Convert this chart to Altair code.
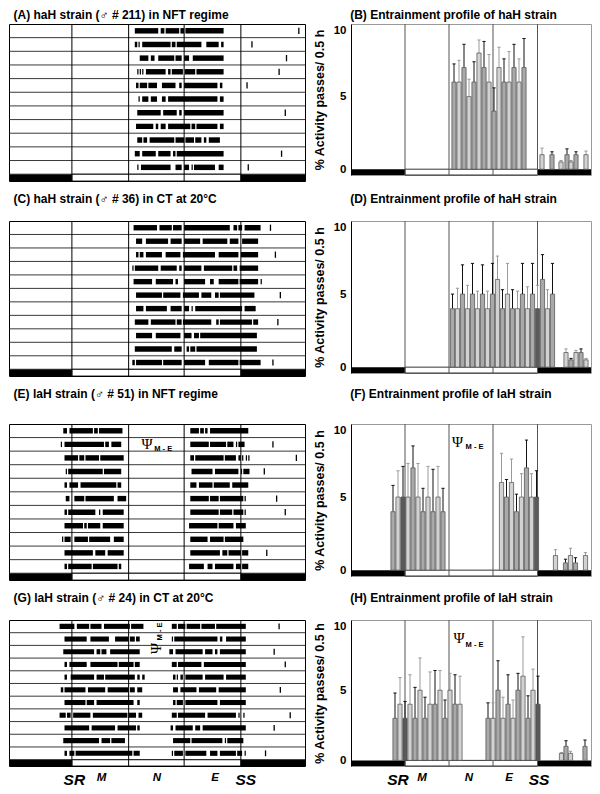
import altair as alt
import pandas as pd

FONT = "Liberation Sans"
DAY = 24.0

# phase boundaries (hours): SR, M|N, N|E, SS
BOUNDS_ACTO = [5.1, 9.7, 14.2, 18.8]
BOUNDS_PROF = [5.4, 9.8, 14.2, 18.65]

# ---------------- actogram activity bouts (start, end) in hours, one list per day ----------
A_ROWS = [
    [(10.2, 12.1), (12.3, 12.6), (12.7, 13.8), (13.9, 14.2), (14.3, 17.4)],
    [(10.2, 10.4), (10.5, 10.6), (10.8, 13.1), (13.2, 13.5), (13.6, 15.6), (16.0, 17.0), (17.2, 17.4)],
    [(10.6, 11.3), (11.5, 11.8), (12.1, 13.4), (13.5, 14.0), (14.2, 14.6), (14.9, 17.4)],
    [(10.4, 10.5), (10.6, 10.7), (10.8, 10.9), (11.1, 12.7), (12.9, 13.1), (13.2, 14.1), (14.25, 15.1), (15.2, 17.4)],
    [(10.3, 10.5), (10.6, 11.2), (11.3, 12.0), (12.4, 13.5), (13.8, 14.0), (14.2, 16.9), (17.1, 17.3)],
    [(10.5, 10.6), (10.8, 11.3), (11.5, 12.0), (12.4, 12.7), (12.9, 16.9), (17.1, 17.4)],
    [(10.4, 12.3), (12.5, 13.6), (13.8, 14.0), (14.2, 17.4)],
    [(10.3, 11.7), (11.9, 12.1), (12.3, 12.7), (12.9, 14.7), (14.8, 15.1), (15.2, 16.9), (17.1, 17.4)],
    [(10.4, 10.8), (10.9, 11.2), (11.4, 13.4), (13.5, 14.2), (14.3, 15.0), (15.1, 15.6), (15.8, 16.0), (16.2, 17.1)],
    [(10.2, 10.6), (10.8, 11.9), (12.1, 13.1), (13.3, 13.5), (13.6, 17.4)],
    [(10.4, 10.5), (10.7, 13.1), (13.5, 14.0), (14.2, 14.6), (14.8, 14.9), (15.0, 16.7), (17.0, 17.4)],
]
A_TICKS = [23.5, 19.7, 22.5, 21.9, 19.3, None, 22.4, None, None, 22.1, 19.4]

C_ROWS = [
    [(10.1, 12.0), (12.2, 13.2), (13.3, 14.0), (14.2, 17.9), (18.2, 18.5), (18.6, 18.9), (19.1, 20.4)],
    [(10.3, 10.8), (11.1, 12.9), (13.1, 14.0), (14.2, 15.5), (15.7, 17.7), (17.9, 18.6), (18.9, 20.2)],
    [(10.3, 10.5), (10.6, 10.9), (11.1, 12.4), (12.7, 13.9), (14.1, 16.7), (17.0, 18.6), (18.8, 20.2)],
    [(10.0, 10.1), (10.2, 12.1), (12.3, 13.6), (13.8, 14.0), (14.2, 15.6), (15.8, 18.1), (18.2, 18.5), (18.7, 20.2)],
    [(10.1, 11.6), (11.9, 13.3), (13.5, 13.7), (14.2, 15.9), (16.3, 16.6), (17.0, 18.6), (18.7, 20.2), (20.4, 20.5)],
    [(10.3, 12.4), (12.5, 13.9), (14.1, 15.4), (15.6, 16.4), (16.7, 17.0), (17.1, 19.9)],
    [(10.3, 10.9), (11.1, 12.8), (13.1, 14.0), (14.2, 14.6), (14.8, 14.9), (15.1, 18.9), (19.1, 20.0)],
    [(10.2, 11.3), (11.5, 13.5), (13.6, 14.0), (14.1, 16.4), (16.8, 17.0), (17.1, 19.7), (19.8, 20.2)],
    [(10.3, 11.6), (11.9, 13.9), (14.2, 14.8), (15.0, 15.4), (15.5, 20.1)],
    [(10.2, 13.2), (13.4, 14.0), (14.4, 14.6), (14.7, 15.1), (15.2, 20.1)],
    [(10.0, 10.2), (10.3, 12.4), (12.5, 14.0), (14.2, 15.9), (16.2, 18.6), (18.7, 20.4)],
]
C_TICKS = [21.2, None, 21.6, None, None, 22.0, None, 21.8, None, None, 21.4]

E_ROWS = [
    [(4.4, 4.7), (4.9, 6.8), (6.9, 7.2), (7.3, 9.2), (14.7, 15.4), (15.5, 15.8), (15.9, 16.1), (16.3, 19.4)],
    [(4.2, 4.3), (4.5, 7.7), (7.8, 8.1), (8.3, 9.1), (14.7, 16.2), (16.3, 17.6), (17.7, 18.2), (18.4, 18.5), (18.6, 19.1)],
    [(4.5, 5.6), (5.7, 6.1), (6.2, 7.3), (7.4, 9.3), (14.7, 15.0), (15.1, 17.4), (17.5, 18.4), (18.6, 18.8), (18.9, 19.0), (19.2, 19.3), (19.4, 19.5)],
    [(4.6, 4.7), (4.8, 7.6), (7.7, 9.1), (14.8, 16.5), (16.7, 18.6), (18.8, 18.9), (19.0, 19.5)],
    [(4.5, 4.7), (4.9, 5.6), (5.8, 8.7), (8.8, 9.1), (14.7, 15.2), (15.4, 16.5), (16.6, 17.9), (18.1, 19.4)],
    [(4.6, 4.9), (5.3, 6.1), (6.2, 8.5), (8.8, 9.5), (14.7, 16.2), (16.3, 17.0), (17.1, 19.0), (19.1, 19.2)],
    [(4.5, 4.7), (4.8, 7.0), (7.3, 7.4), (7.6, 9.3), (14.7, 17.0), (17.1, 18.1), (18.2, 19.0), (19.1, 19.2)],
    [(4.5, 6.0), (6.1, 6.3), (6.4, 7.4), (7.6, 9.3), (14.6, 16.9), (17.0, 18.2), (18.4, 19.2)],
    [(4.3, 4.4), (4.5, 5.0), (5.3, 6.4), (6.5, 8.2), (8.5, 9.3), (14.7, 16.1), (16.3, 17.4), (17.5, 19.0)],
    [(4.5, 6.8), (7.0, 7.8), (8.0, 9.3), (14.7, 17.1), (17.3, 17.7), (17.8, 18.8), (18.9, 19.4)],
    [(4.5, 4.7), (4.8, 6.7), (6.8, 8.8), (8.9, 9.1), (14.6, 15.8), (16.1, 16.5), (16.7, 18.2), (18.4, 18.8), (18.9, 19.4)],
]
E_TICKS = [None, 21.4, 23.3, 20.7, None, 21.7, 22.4, None, None, 20.9, None]

G_ROWS = [
    [(4.1, 5.3), (5.5, 6.5), (6.6, 7.5), (7.7, 9.8), (9.9, 10.9), (13.2, 13.6), (13.7, 14.3), (14.4, 15.5), (15.6, 16.7), (16.8, 19.2)],
    [(4.5, 6.3), (6.6, 8.1), (8.6, 9.7), (9.8, 10.2), (10.3, 10.6), (13.2, 13.3), (13.4, 16.9), (17.1, 17.3), (17.6, 19.2)],
    [(4.4, 6.9), (7.1, 7.4), (7.5, 7.9), (8.2, 10.6), (13.0, 13.3), (13.5, 15.7), (15.9, 16.5), (16.7, 16.9), (17.1, 19.2)],
    [(4.5, 4.7), (4.9, 6.3), (6.6, 8.8), (8.9, 10.1), (10.2, 10.6), (13.2, 13.6), (13.7, 15.6), (15.8, 19.2)],
    [(4.5, 4.7), (5.0, 6.9), (7.1, 7.7), (7.8, 10.2), (10.4, 10.6), (10.8, 11.0), (13.3, 13.5), (13.6, 13.7), (13.9, 14.1), (14.3, 15.7), (15.9, 17.4), (17.6, 19.2)],
    [(4.2, 4.4), (4.5, 6.2), (6.4, 7.8), (8.0, 9.7), (9.8, 10.2), (10.4, 10.8), (13.3, 13.7), (13.9, 15.2), (15.4, 16.8), (17.0, 19.2)],
    [(4.5, 6.2), (6.3, 6.9), (7.1, 10.1), (10.4, 10.6), (13.3, 13.5), (13.6, 14.1), (14.3, 16.9), (17.1, 19.2)],
    [(4.1, 4.6), (4.7, 5.0), (5.2, 6.6), (6.8, 9.6), (9.7, 10.3), (10.5, 10.8), (13.2, 13.6), (13.7, 15.9), (16.1, 18.4), (18.6, 18.7), (19.0, 19.1)],
    [(4.5, 6.5), (6.7, 8.6), (8.8, 10.3), (10.4, 10.6), (13.1, 13.3), (13.5, 14.9), (15.1, 15.5), (15.7, 19.2)],
    [(4.4, 7.3), (7.5, 8.2), (8.3, 9.4), (13.3, 14.7), (14.8, 17.3), (17.5, 17.6), (17.7, 19.0)],
    [(4.5, 4.7), (4.9, 5.3), (5.4, 10.0), (10.1, 10.6), (13.2, 13.3), (13.4, 14.1), (14.3, 16.0), (16.3, 16.9), (17.1, 18.4), (18.5, 18.9), (19.1, 19.2)],
]
G_TICKS = [21.9, None, 21.5, 22.4, None, 22.0, None, 22.8, 21.5, None, 20.8]

# ---------------- entrainment profiles: half-hour bin centre (h), mean, mean+SEM ------------
B_T = [10.3, 10.8, 11.3, 11.8, 12.3, 12.8, 13.3, 13.8, 14.3, 14.8, 15.3, 15.8, 16.3, 16.8, 17.3,
       19.1, 20.1, 21.0, 21.6, 22.0, 22.5, 23.5]
B_V = [6, 6, 7, 5, 6, 8, 7, 6, 4, 7, 6, 6, 7, 6, 7, 1, 1, 0.5, 1, 0.5, 1, 1]
B_E = [7.25, 7.5, 8.6, 6.2, 7.4, 8.9, 8.8, 7.9, 5.6, 8.4, 7.6, 8.1, 8.6, 7.6, 9.0,
       1.45, 1.2, 0.6, 1.4, 0.6, 1.2, 1.25]

D_T = [10.15, 10.65, 11.15, 11.65, 12.15, 12.65, 13.15, 13.65, 14.15, 14.65, 15.15, 15.65, 16.15,
       16.65, 17.15, 17.65, 18.15, 18.65, 19.15, 19.65, 20.15, 21.5, 22.0, 22.5, 23.0, 23.5]
D_V = [4, 4, 5, 4, 5, 4, 5, 4, 5, 6, 4, 5, 4, 4, 5, 4, 5, 4, 6, 4, 5, 1, 0.5, 1, 1, 0.5]
D_E = [5.0, 5.4, 7.0, 5.6, 7.1, 5.2, 7.0, 5.2, 7.1, 7.6, 5.3, 7.1, 5.3, 5.2, 7.1, 5.5, 7.1, 5.6,
       7.7, 5.3, 7.1, 1.25, 0.6, 1.15, 1.25, 0.6]

F_T = [4.2, 4.7, 5.2, 5.7, 6.2, 6.7, 7.2, 7.7, 8.2, 8.7, 9.2,
       15.05, 15.55, 16.05, 16.55, 17.05, 17.55, 18.05, 18.55,
       20.45, 21.45, 21.95, 22.45, 23.45]
F_V = [4, 5, 5, 5, 7, 5, 4, 5, 4, 5, 4, 6, 5, 6, 4, 5, 7, 5, 5, 1, 0.5, 1, 0.5, 1]
F_E = [5.8, 6.8, 7.1, 7.3, 8.5, 7.3, 5.6, 7.1, 6.9, 7.1, 5.6,
       8.0, 6.2, 7.6, 5.2, 6.6, 8.9, 6.6, 6.8, 1.4, 0.75, 1.5, 0.85, 1.2]

H_T = [4.4, 4.9, 5.4, 5.9, 6.4, 6.9, 7.4, 7.9, 8.4, 8.9, 9.4, 9.9, 10.4, 10.9,
       13.7, 14.2, 14.7, 15.2, 15.7, 16.2, 16.7, 17.2, 17.7, 18.2, 18.7,
       21.05, 21.5, 21.95, 23.4]
H_V = [3, 4, 3, 4, 3, 5, 3, 4, 4, 5, 3, 5, 4, 4,
       3, 3, 5, 3, 4, 3, 5, 6, 3, 5, 4, 0.5, 1, 0.5, 1]
H_E = [4.8, 5.9, 4.2, 6.1, 5.2, 7.3, 4.5, 6.3, 6.4, 6.4, 4.3, 6.2, 6.1, 6.0,
       4.1, 4.1, 7.1, 4.5, 6.1, 4.3, 6.2, 8.8, 4.6, 6.5, 6.0, 0.55, 1.4, 0.65, 1.45]

# ---------------- texts ----------------
TITLES_LEFT = [
    "(A) haH strain (\u2642 # 211) in NFT regime",
    "(C) haH strain (\u2642 # 36) in CT at 20\u00b0C",
    "(E) laH strain (\u2642  # 51) in NFT regime",
    "(G) laH strain (\u2642  # 24) in CT at 20\u00b0C",
]
TITLES_RIGHT = [
    "(B) Entrainment profile of haH strain",
    "(D) Entrainment profile of haH strain",
    "(F) Entrainment profile of laH strain",
    "(H) Entrainment  profile of laH strain",
]
Y_TITLE = "% Activity passes/ 0.5 h"
PHASE_LABELS = ["SR", "M", "N", "E", "SS"]
G_LABEL_T = [5.3, 7.5, 12.0, 16.7, 19.2]
H_LABEL_T = [4.7, 7.1, 11.8, 15.8, 18.8]
PSI = "\u03a8"
SUB = "M - E"
# annotation anchors: (psi_t, psi_y, sub_t, sub_y)
PSI_E = (11.2, 1.45, 12.5, 1.85)
PSI_F = (10.65, 8.75, 12.35, 8.4)
PSI_G = (11.95, 2.25, 12.25, 0.9)
PSI_H = (10.8, 8.7, 12.35, 8.25)

N_ROWS = 11
LD = 0.5          # height of light/dark bar in row units
PROF_LO = -0.4    # light/dark bar in profile units
TITLE_SIZE = 12


def acto_x():
    return alt.Scale(domain=[0, DAY], nice=False, zero=False)


def label_layers(X, Y, ts, ybase):
    lab = pd.DataFrame({"t": ts, "lab": PHASE_LABELS, "y": [ybase] * 5})
    big = lab[lab.lab.isin(["SR", "SS"])]
    small = lab[~lab.lab.isin(["SR", "SS"])]
    return [
        alt.Chart(big).mark_text(font=FONT, fontSize=15.5, fontWeight="bold",
                                 fontStyle="italic", dy=14, color="black").encode(
            x=X("t:Q"), y=Y("y:Q"), text="lab:N"),
        alt.Chart(small).mark_text(font=FONT, fontSize=11.5, fontWeight="bold",
                                   fontStyle="italic", dy=12, color="black").encode(
            x=X("t:Q"), y=Y("y:Q"), text="lab:N"),
    ]


def actogram(title, rows, ticks, width, height, offset, psi=None, rotate=False, labels=None):
    xs = acto_x()
    ys = alt.Scale(domain=[0, N_ROWS + LD], reverse=True, nice=False, zero=False)
    sr, mn, ne, ss = BOUNDS_ACTO

    seg = []
    for i, r in enumerate(rows):
        for s, e in r:
            seg.append({"s": s, "e": e, "y0": i + 0.3, "y1": i + 0.7})
    seg = pd.DataFrame(seg)
    tk = pd.DataFrame([{"t": t, "y0": i + 0.27, "y1": i + 0.73}
                       for i, t in enumerate(ticks) if t is not None])
    seps = pd.DataFrame({"y": list(range(1, N_ROWS + 1))})
    vl = pd.DataFrame({"t": BOUNDS_ACTO})
    dark = pd.DataFrame({"s": [0, ss], "e": [sr, DAY], "y0": [N_ROWS] * 2, "y1": [N_ROWS + LD] * 2})
    light = pd.DataFrame({"s": [sr], "e": [ss], "y0": [N_ROWS], "y1": [N_ROWS + LD]})

    X = lambda f: alt.X(f, scale=xs, axis=None)
    Y = lambda f: alt.Y(f, scale=ys, axis=None)

    layers = [
        alt.Chart(dark).mark_rect(color="black").encode(x=X("s:Q"), x2="e:Q", y=Y("y0:Q"), y2="y1:Q"),
        alt.Chart(light).mark_rect(fill="white", stroke="black", strokeWidth=0.8).encode(
            x=X("s:Q"), x2="e:Q", y=Y("y0:Q"), y2="y1:Q"),
        alt.Chart(seps).mark_rule(color="#222", strokeWidth=0.9).encode(y=Y("y:Q")),
        alt.Chart(seg).mark_rect(color="black").encode(x=X("s:Q"), x2="e:Q", y=Y("y0:Q"), y2="y1:Q"),
        alt.Chart(tk).mark_rule(color="black", strokeWidth=1.3).encode(x=X("t:Q"), y=Y("y0:Q"), y2="y1:Q"),
        alt.Chart(vl).mark_rule(color="black", strokeWidth=1).encode(x=X("t:Q")),
    ]
    if psi is not None:
        pt, py, st, sy = psi
        ang = 270 if rotate else 0
        layers.append(alt.Chart(pd.DataFrame({"t": [pt], "y": [py], "s": [PSI]})).mark_text(
            font="Liberation Serif", fontSize=15, angle=ang, color="black").encode(
            x=X("t:Q"), y=Y("y:Q"), text="s:N"))
        layers.append(alt.Chart(pd.DataFrame({"t": [st], "y": [sy], "s": [SUB]})).mark_text(
            font=FONT, fontSize=7.5, fontWeight="bold", angle=ang, color="black").encode(
            x=X("t:Q"), y=Y("y:Q"), text="s:N"))
    if labels is not None:
        layers += label_layers(X, Y, labels, N_ROWS + LD)

    return alt.layer(*layers).properties(
        width=width, height=height,
        title=alt.TitleParams(title, anchor="start", font=FONT, fontSize=TITLE_SIZE, fontWeight="bold",
                              color="black", offset=offset, dx=5),
        view=alt.ViewBackground(stroke="black", strokeWidth=1),
    )


def profile(title, T, V, E, width, height, offset, psi=None, labels=None):
    xs = acto_x()
    ys = alt.Scale(domain=[PROF_LO, 10], nice=False, zero=False)
    sr, mn, ne, ss = BOUNDS_PROF
    recs = []
    for i, (t, v, e) in enumerate(zip(T, V, E)):
        shade = "dark" if (abs(t - sr) < 0.25 or abs(t - ss) < 0.25) else ("mid" if i % 2 == 0 else "light")
        recs.append({"t": t, "v": v, "e": e, "x0": t - 0.21, "x1": t + 0.21,
                     "c0": t - 0.16, "c1": t + 0.16, "z": 0.0,
                     "shade": shade, "cap": "a" if i % 2 == 0 else "b"})
    df = pd.DataFrame(recs)
    vl = pd.DataFrame({"t": BOUNDS_PROF})
    dark = pd.DataFrame({"s": [0, ss], "e": [sr, DAY], "y0": [PROF_LO] * 2, "y1": [0] * 2})
    light = pd.DataFrame({"s": [sr], "e": [ss], "y0": [PROF_LO], "y1": [0]})

    yaxis = alt.Axis(values=[0, 5, 10], title=Y_TITLE, ticks=False, grid=False,
                     domainColor="black", domainWidth=1, labelFont=FONT, labelFontSize=11.5,
                     labelFontWeight="bold", labelColor="black", labelPadding=5,
                     labelFlush=1,
                     titleFont=FONT, titleFontSize=12.5, titleFontWeight="bold",
                     titleColor="black", titlePadding=7)
    X = lambda f: alt.X(f, scale=xs, axis=None)
    Y = lambda f: alt.Y(f, scale=ys, axis=yaxis, title=Y_TITLE)
    fill = alt.Fill("shade:N", scale=alt.Scale(domain=["light", "mid", "dark"],
                                               range=["#d2d2d2", "#a9a9a9", "#5a5a5a"]), legend=None)
    capc = alt.Color("cap:N", scale=alt.Scale(domain=["a", "b"], range=["#111111", "#9a9a9a"]), legend=None)

    layers = [
        alt.Chart(dark).mark_rect(color="black").encode(
            x=X("s:Q"), x2="e:Q", y=Y("y0:Q"), y2="y1:Q"),
        alt.Chart(light).mark_rect(fill="white", stroke="black", strokeWidth=0.8).encode(
            x=X("s:Q"), x2="e:Q", y=Y("y0:Q"), y2="y1:Q"),
        alt.Chart(vl).mark_rule(color="#555", strokeWidth=1).encode(x=X("t:Q")),
        alt.Chart(df).mark_rule(strokeWidth=1).encode(x=X("t:Q"), y=Y("v:Q"), y2="e:Q", color=capc),
        alt.Chart(df).mark_rule(strokeWidth=1).encode(x=X("c0:Q"), x2="c1:Q", y=Y("e:Q"), color=capc),
        alt.Chart(df).mark_rect(stroke="#4a4a4a", strokeWidth=0.7).encode(
            x=X("x0:Q"), x2="x1:Q", y=Y("z:Q"), y2="v:Q", fill=fill),
    ]
    if psi is not None:
        pt, py, st, sy = psi
        layers.append(alt.Chart(pd.DataFrame({"t": [pt], "y": [py], "s": [PSI]})).mark_text(
            font="Liberation Serif", fontSize=15, color="black").encode(x=X("t:Q"), y=Y("y:Q"), text="s:N"))
        layers.append(alt.Chart(pd.DataFrame({"t": [st], "y": [sy], "s": [SUB]})).mark_text(
            font=FONT, fontSize=7.5, fontWeight="bold", color="black").encode(
            x=X("t:Q"), y=Y("y:Q"), text="s:N"))
    if labels is not None:
        layers += label_layers(X, Y, labels, PROF_LO)

    return alt.layer(*layers).properties(
        width=width, height=height,
        title=alt.TitleParams(title, anchor="start", font=FONT, fontSize=TITLE_SIZE, fontWeight="bold",
                              color="black", offset=offset, dx=37),
        view=alt.ViewBackground(stroke="#9a9a9a", strokeWidth=1),
    )


LW, RW = 296, 240
HS = 6
row1 = alt.hconcat(
    actogram(TITLES_LEFT[0], A_ROWS, A_TICKS, LW, 157, 2),
    profile(TITLES_RIGHT[0], B_T, B_V, B_E, RW, 151, 2), spacing=HS)
row2 = alt.hconcat(
    actogram(TITLES_LEFT[1], C_ROWS, C_TICKS, LW, 155, 15),
    profile(TITLES_RIGHT[1], D_T, D_V, D_E, RW, 152, 15), spacing=HS)
row3 = alt.hconcat(
    actogram(TITLES_LEFT[2], E_ROWS, E_TICKS, LW, 156, 23, psi=PSI_E),
    profile(TITLES_RIGHT[2], F_T, F_V, F_E, RW, 152, 23, psi=PSI_F), spacing=HS)
row4 = alt.hconcat(
    actogram(TITLES_LEFT[3], G_ROWS, G_TICKS, LW, 146, 15, psi=PSI_G, rotate=True, labels=G_LABEL_T),
    profile(TITLES_RIGHT[3], H_T, H_V, H_E, RW, 146, 15, psi=PSI_H, labels=H_LABEL_T), spacing=HS)

chart = alt.vconcat(row1, row2, row3, row4, spacing=10).properties(
    padding=0, background="white"
).configure(font=FONT)

chart.save("out.html", embed_options={"renderer": "svg", "actions": False})
